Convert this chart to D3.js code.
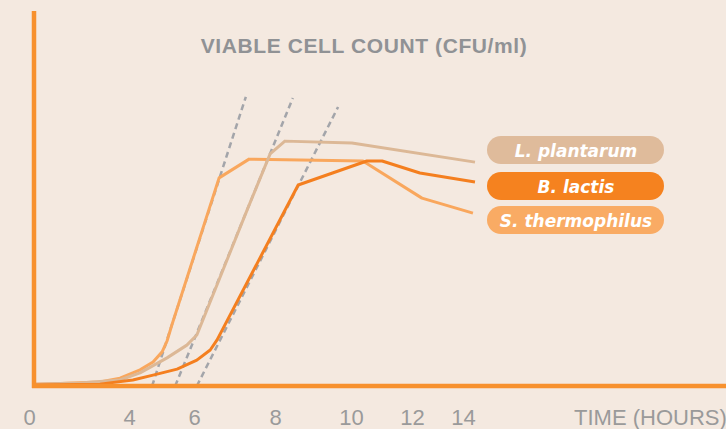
<!doctype html>
<html lang="en">
<head>
  <meta charset="utf-8">
  <title>Viable cell count</title>
  <style>
    html, body { margin:0; padding:0; background:#f4e9e0; }
    #chart svg { display:block; }
    .tick text, .axis-label { font-family:"Liberation Sans", Arial, sans-serif; font-size:22px; fill:#9a9a9a; }
    .title { font-family:"Liberation Sans", Arial, sans-serif; font-size:21px; font-weight:bold; fill:#909295; letter-spacing:0.6px; }
    .pill text { font-family:"DejaVu Sans", sans-serif; font-size:17px; font-weight:bold; font-style:italic; fill:#fff; }
  </style>
</head>
<body>
  <div id="chart"></div>

<script src="https://cdn.jsdelivr.net/npm/d3@7"></script>
<script>
// ticks on the time axis (hours) - the axis is not evenly spaced in the original
var tickHours = [0, 4, 6, 8, 10, 12, 14];

// growth curves: hours / relative log count (0-100)
var thermoHours = [0.2, 1.24, 2.84, 3.64, 4.34, 4.74, 5.02, 5.17, 5.32, 6.62, 7.36, 10.39, 12.39, 14.39];
var thermoCount = [0.5, 0.7, 1.1, 2.1, 4.3, 6.4, 9.1, 12.0, 16.3, 55.5, 60.5, 60.0, 50.1, 46.1];

var plantHours = [0.2, 2.04, 3.64, 4.34, 5.17, 5.78, 6.07, 7.31, 7.88, 8.26, 10.03, 14.47];
var plantCount = [0.5, 0.8, 1.6, 3.5, 7.5, 10.9, 13.6, 46.9, 61.9, 65.3, 64.8, 59.7];

var lactisHours = [0.2, 2.84, 4.12, 4.74, 5.48, 6.07, 6.40, 6.57, 8.61, 10.52, 11.02, 12.31, 14.47];
var lactisCount = [0.3, 0.5, 1.6, 2.9, 4.5, 6.9, 9.6, 12.3, 53.6, 60.0, 60.0, 56.8, 54.4];

// dashed exponential-phase trend lines
var trendStartHours = [4.71, 5.42, 6.07];
var trendEndHours   = [7.28, 8.47, 9.66];
var trendEndCount   = [77.1, 76.8, 74.4];

var legendNames = ["L. plantarum", "B. lactis", "S. thermophilus"];

var width = 726, height = 429;

var svg = d3.select("#chart").append("svg")
    .attr("width", width)
    .attr("height", height);

var x = d3.scaleLinear()
    .domain(tickHours)
    .range([29, 129, 194, 275, 351, 412, 463]);

var y = d3.scaleLinear()
    .domain([0, 100])
    .range([386, 11]);

var line = d3.line()
    .x(function(d) { return x(d[0]); })
    .y(function(d) { return y(d[1]); });

// trend lines
svg.selectAll(".trend")
    .data(trendStartHours)
  .enter().append("path")
    .attr("class", "trend")
    .attr("d", function(d, i) { return line([[d, 0], [trendEndHours[i], trendEndCount[i]]]); })
    .attr("fill", "none")
    .attr("stroke", "#a3a5aa")
    .attr("stroke-width", 2.5)
    .attr("stroke-dasharray", "6,4");

var series = [
  { hours: thermoHours, count: thermoCount, color: "#f9a75d" },
  { hours: plantHours,  count: plantCount,  color: "#dcb896" },
  { hours: lactisHours, count: lactisCount, color: "#f47f1f" }
];

svg.selectAll(".curve")
    .data(series)
  .enter().append("path")
    .attr("class", "curve")
    .attr("d", function(s) { return line(s.hours.map(function(h, i) { return [h, s.count[i]]; })); })
    .attr("fill", "none")
    .attr("stroke", function(s) { return s.color; })
    .attr("stroke-width", 3)
    .attr("stroke-linejoin", "round");

// axis lines
svg.append("line")
    .attr("x1", 34).attr("x2", 34)
    .attr("y1", 11).attr("y2", 388)
    .attr("stroke", "#f7912e").attr("stroke-width", 4.5);

svg.append("line")
    .attr("x1", 32).attr("x2", width)
    .attr("y1", 386).attr("y2", 386)
    .attr("stroke", "#f7912e").attr("stroke-width", 4.5);

var xAxis = d3.axisBottom(x)
    .tickValues(tickHours)
    .tickSize(0)
    .tickPadding(23);

svg.append("g")
    .attr("transform", "translate(0,386)")
    .call(xAxis)
    .call(function(g) { g.select(".domain").remove(); })
    .selectAll("text")
    .attr("font-family", null)
    .attr("font-size", null);

svg.append("text")
    .attr("class", "axis-label")
    .attr("x", 574)
    .attr("y", 425)
    .text("TIME (HOURS)");

svg.append("text")
    .attr("class", "title")
    .attr("x", 364)
    .attr("y", 53)
    .attr("text-anchor", "middle")
    .text("VIABLE CELL COUNT (CFU/ml)");

// legend pills
var pillColors = ["#dfbb9b", "#f5821f", "#f9ab64"];
var pillTop = [136, 172, 206];

var pill = svg.selectAll(".pill")
    .data(legendNames)
  .enter().append("g")
    .attr("class", "pill")
    .attr("transform", function(d, i) { return "translate(487," + pillTop[i] + ")"; });

pill.append("rect")
    .attr("width", 177)
    .attr("height", 28)
    .attr("rx", 14)
    .attr("fill", function(d, i) { return pillColors[i]; });

pill.append("text")
    .attr("x", 89)
    .attr("y", 20.5)
    .attr("text-anchor", "middle")
    .text(function(d) { return d; });
</script>
</body>
</html>
